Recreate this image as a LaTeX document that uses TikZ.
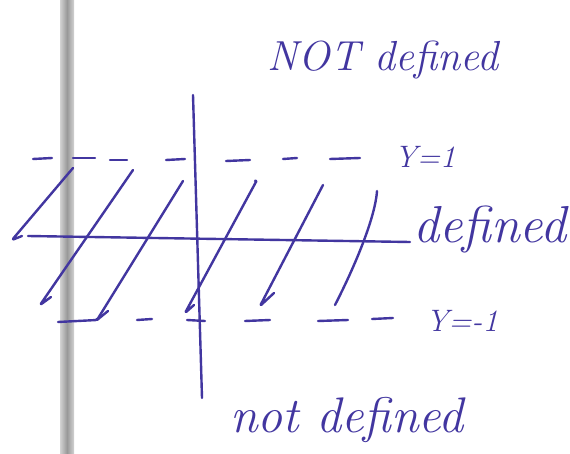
\documentclass[tikz,border=0pt]{standalone}
\usetikzlibrary{shadings}
\definecolor{ink}{RGB}{66,54,160}
\begin{document}
\begin{tikzpicture}[x=1pt,y=-1pt,
  inkline/.style={draw=ink,line width=2.4pt,line cap=round,line join=round},
  hatch/.style={inkline,rounded corners=1.5pt},
  lbl/.style={text=ink,inner sep=0pt}]
\useasboundingbox (0,0) rectangle (570,454);
\fill[white] (0,0) rectangle (570,454);
% gray binding bar
\shade[left color=gray!35,right color=gray!35,middle color=gray!80] (60,0) rectangle (74,454);
% axes
\coordinate (vt) at (193,95);
\coordinate (vb) at (202,398);
\coordinate (hl) at (28,236);
\coordinate (hr) at (410,242);
\draw[inkline] (vt) -- (vb);
\draw[inkline] (hl) -- (hr);
% dashed lines
\draw[inkline] (33,159) -- (52,158);
\draw[inkline] (73,158) -- (95,158);
\draw[inkline] (110,160) -- (127,160);
\draw[inkline] (166,160) -- (185,159);
\draw[inkline] (226,161) -- (250,160);
\draw[inkline] (283,159) -- (297,158);
\draw[inkline] (330,159) -- (360,158);
\draw[inkline] (137,320) -- (152,319);
\draw[inkline] (187,320) -- (205,321);
\draw[inkline] (245,321) -- (270,320);
\draw[inkline] (318,321) -- (348,320);
\draw[inkline] (372,319) -- (393,318);
% hatching
\draw[hatch] (73,168) -- (12,240) -- (22,236);
\draw[hatch] (133,170) -- (40,305) -- (51,297);
\draw[hatch] (58,322) -- (97,320) -- (183,181);
\draw[hatch] (97,320) -- (108,311);
\draw[hatch] (255,181) -- (257,180) -- (185,313) -- (194,305);
\draw[hatch] (323,185) -- (260,306) -- (274,293);
\draw[inkline] (377,191) .. controls (375,220) and (352,272) .. (335,305);
% labels
\node[lbl,font=\fontsize{31}{34}\selectfont\itshape] (y1) at (425,157) {Y=1};
\node[lbl,font=\fontsize{31}{34}\selectfont\itshape] (ym1) at (462,321) {Y=-1};
\node[lbl,font=\fontsize{42}{46}\selectfont\itshape] (top) at (383,60) {NOT defined};
\node[lbl,font=\fontsize{52}{56}\selectfont\itshape] (right) at (490,230) {defined};
\node[lbl,font=\fontsize{50}{54}\selectfont\itshape] (bot) at (347,420) {not defined};
\end{tikzpicture}
\end{document}
